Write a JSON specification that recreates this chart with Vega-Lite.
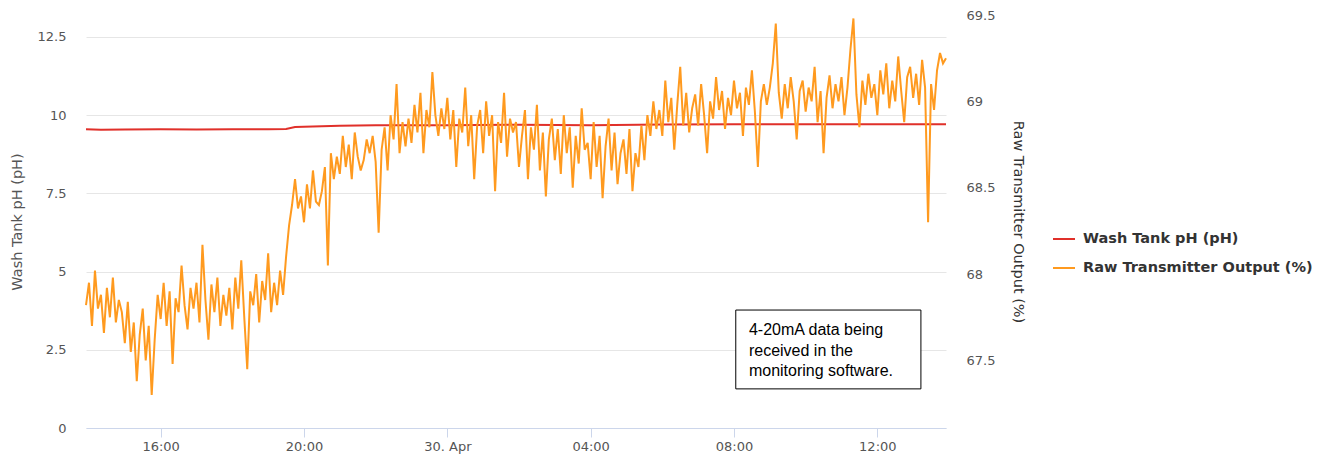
{
  "$schema": "https://vega.github.io/schema/vega-lite/v6.json",
  "width": 860,
  "height": 413,
  "autosize": "none",
  "padding": {"left": 86, "top": 15, "right": 375, "bottom": 29},
  "config": {
    "view": {"stroke": null},
    "font": "DejaVu Sans",
    "axis": {"labelFont": "DejaVu Sans", "titleFont": "DejaVu Sans", "labelColor": "#555555", "labelFontSize": 13, "titleFontWeight": "normal"}
  },
  "datasets": {
    "ph": [
      {"t": "2019-04-29T13:55", "v": 9.55}, {"t": "2019-04-29T14:20", "v": 9.53}, {"t": "2019-04-29T15:00", "v": 9.54},
      {"t": "2019-04-29T16:00", "v": 9.55}, {"t": "2019-04-29T17:00", "v": 9.54}, {"t": "2019-04-29T18:00", "v": 9.55},
      {"t": "2019-04-29T19:00", "v": 9.55}, {"t": "2019-04-29T19:30", "v": 9.56}, {"t": "2019-04-29T19:45", "v": 9.62},
      {"t": "2019-04-29T20:15", "v": 9.64}, {"t": "2019-04-29T21:00", "v": 9.66}, {"t": "2019-04-29T22:00", "v": 9.68},
      {"t": "2019-04-30T00:00", "v": 9.68}, {"t": "2019-04-30T02:00", "v": 9.69}, {"t": "2019-04-30T04:00", "v": 9.68},
      {"t": "2019-04-30T06:00", "v": 9.70}, {"t": "2019-04-30T08:00", "v": 9.71}, {"t": "2019-04-30T10:00", "v": 9.71},
      {"t": "2019-04-30T12:00", "v": 9.71}, {"t": "2019-04-30T13:55", "v": 9.71}
    ],
    "raw": [
      {"t": "2019-04-29T13:55", "v": 67.82}, {"t": "2019-04-29T14:00", "v": 67.95}, {"t": "2019-04-29T14:05", "v": 67.70}, {"t": "2019-04-29T14:10", "v": 68.02},
      {"t": "2019-04-29T14:15", "v": 67.80}, {"t": "2019-04-29T14:20", "v": 67.88}, {"t": "2019-04-29T14:25", "v": 67.66}, {"t": "2019-04-29T14:30", "v": 67.92},
      {"t": "2019-04-29T14:35", "v": 67.75}, {"t": "2019-04-29T14:40", "v": 67.98}, {"t": "2019-04-29T14:45", "v": 67.72}, {"t": "2019-04-29T14:50", "v": 67.85},
      {"t": "2019-04-29T14:55", "v": 67.78}, {"t": "2019-04-29T15:00", "v": 67.60}, {"t": "2019-04-29T15:05", "v": 67.84}, {"t": "2019-04-29T15:10", "v": 67.55},
      {"t": "2019-04-29T15:15", "v": 67.72}, {"t": "2019-04-29T15:20", "v": 67.38}, {"t": "2019-04-29T15:25", "v": 67.65}, {"t": "2019-04-29T15:30", "v": 67.80},
      {"t": "2019-04-29T15:35", "v": 67.50}, {"t": "2019-04-29T15:40", "v": 67.70}, {"t": "2019-04-29T15:45", "v": 67.30}, {"t": "2019-04-29T15:50", "v": 67.62},
      {"t": "2019-04-29T15:55", "v": 67.88}, {"t": "2019-04-29T16:00", "v": 67.74}, {"t": "2019-04-29T16:05", "v": 67.95}, {"t": "2019-04-29T16:10", "v": 67.70},
      {"t": "2019-04-29T16:15", "v": 67.90}, {"t": "2019-04-29T16:20", "v": 67.48}, {"t": "2019-04-29T16:25", "v": 67.86}, {"t": "2019-04-29T16:30", "v": 67.78},
      {"t": "2019-04-29T16:35", "v": 68.05}, {"t": "2019-04-29T16:40", "v": 67.82}, {"t": "2019-04-29T16:45", "v": 67.68}, {"t": "2019-04-29T16:50", "v": 67.92},
      {"t": "2019-04-29T16:55", "v": 67.80}, {"t": "2019-04-29T17:00", "v": 67.95}, {"t": "2019-04-29T17:05", "v": 67.72}, {"t": "2019-04-29T17:10", "v": 68.17},
      {"t": "2019-04-29T17:15", "v": 67.85}, {"t": "2019-04-29T17:20", "v": 67.62}, {"t": "2019-04-29T17:25", "v": 67.94}, {"t": "2019-04-29T17:30", "v": 67.78},
      {"t": "2019-04-29T17:35", "v": 67.98}, {"t": "2019-04-29T17:40", "v": 67.70}, {"t": "2019-04-29T17:45", "v": 67.88}, {"t": "2019-04-29T17:50", "v": 67.76},
      {"t": "2019-04-29T17:55", "v": 67.92}, {"t": "2019-04-29T18:00", "v": 67.68}, {"t": "2019-04-29T18:05", "v": 67.98}, {"t": "2019-04-29T18:10", "v": 67.80},
      {"t": "2019-04-29T18:15", "v": 68.08}, {"t": "2019-04-29T18:20", "v": 67.75}, {"t": "2019-04-29T18:25", "v": 67.45}, {"t": "2019-04-29T18:30", "v": 67.90},
      {"t": "2019-04-29T18:35", "v": 67.82}, {"t": "2019-04-29T18:40", "v": 68.00}, {"t": "2019-04-29T18:45", "v": 67.72}, {"t": "2019-04-29T18:50", "v": 67.96},
      {"t": "2019-04-29T18:55", "v": 67.85}, {"t": "2019-04-29T19:00", "v": 68.12}, {"t": "2019-04-29T19:05", "v": 67.78}, {"t": "2019-04-29T19:10", "v": 67.95},
      {"t": "2019-04-29T19:15", "v": 67.82}, {"t": "2019-04-29T19:20", "v": 68.02}, {"t": "2019-04-29T19:25", "v": 67.88}, {"t": "2019-04-29T19:30", "v": 68.10},
      {"t": "2019-04-29T19:35", "v": 68.28}, {"t": "2019-04-29T19:40", "v": 68.40}, {"t": "2019-04-29T19:45", "v": 68.55}, {"t": "2019-04-29T19:50", "v": 68.38},
      {"t": "2019-04-29T19:55", "v": 68.45}, {"t": "2019-04-29T20:00", "v": 68.30}, {"t": "2019-04-29T20:05", "v": 68.52}, {"t": "2019-04-29T20:10", "v": 68.38},
      {"t": "2019-04-29T20:15", "v": 68.60}, {"t": "2019-04-29T20:20", "v": 68.42}, {"t": "2019-04-29T20:25", "v": 68.40}, {"t": "2019-04-29T20:30", "v": 68.48},
      {"t": "2019-04-29T20:35", "v": 68.62}, {"t": "2019-04-29T20:40", "v": 68.05}, {"t": "2019-04-29T20:45", "v": 68.70}, {"t": "2019-04-29T20:50", "v": 68.55},
      {"t": "2019-04-29T20:55", "v": 68.68}, {"t": "2019-04-29T21:00", "v": 68.58}, {"t": "2019-04-29T21:05", "v": 68.80}, {"t": "2019-04-29T21:10", "v": 68.62},
      {"t": "2019-04-29T21:15", "v": 68.75}, {"t": "2019-04-29T21:20", "v": 68.55}, {"t": "2019-04-29T21:25", "v": 68.82}, {"t": "2019-04-29T21:30", "v": 68.68},
      {"t": "2019-04-29T21:35", "v": 68.60}, {"t": "2019-04-29T21:40", "v": 68.66}, {"t": "2019-04-29T21:45", "v": 68.78}, {"t": "2019-04-29T21:50", "v": 68.70},
      {"t": "2019-04-29T21:55", "v": 68.80}, {"t": "2019-04-29T22:00", "v": 68.65}, {"t": "2019-04-29T22:05", "v": 68.24}, {"t": "2019-04-29T22:10", "v": 68.72},
      {"t": "2019-04-29T22:15", "v": 68.85}, {"t": "2019-04-29T22:20", "v": 68.60}, {"t": "2019-04-29T22:25", "v": 68.92}, {"t": "2019-04-29T22:30", "v": 68.78},
      {"t": "2019-04-29T22:35", "v": 69.10}, {"t": "2019-04-29T22:40", "v": 68.70}, {"t": "2019-04-29T22:45", "v": 68.88}, {"t": "2019-04-29T22:50", "v": 68.74},
      {"t": "2019-04-29T22:55", "v": 68.90}, {"t": "2019-04-29T23:00", "v": 68.76}, {"t": "2019-04-29T23:05", "v": 68.98}, {"t": "2019-04-29T23:10", "v": 68.82},
      {"t": "2019-04-29T23:15", "v": 69.05}, {"t": "2019-04-29T23:20", "v": 68.70}, {"t": "2019-04-29T23:25", "v": 68.95}, {"t": "2019-04-29T23:30", "v": 68.85},
      {"t": "2019-04-29T23:35", "v": 69.17}, {"t": "2019-04-29T23:40", "v": 68.92}, {"t": "2019-04-29T23:45", "v": 68.80}, {"t": "2019-04-29T23:50", "v": 68.96},
      {"t": "2019-04-29T23:55", "v": 68.84}, {"t": "2019-04-30T00:00", "v": 69.02}, {"t": "2019-04-30T00:05", "v": 68.78}, {"t": "2019-04-30T00:10", "v": 68.95},
      {"t": "2019-04-30T00:15", "v": 68.62}, {"t": "2019-04-30T00:20", "v": 68.90}, {"t": "2019-04-30T00:25", "v": 68.82}, {"t": "2019-04-30T00:30", "v": 69.08},
      {"t": "2019-04-30T00:35", "v": 68.74}, {"t": "2019-04-30T00:40", "v": 68.92}, {"t": "2019-04-30T00:45", "v": 68.55}, {"t": "2019-04-30T00:50", "v": 68.86},
      {"t": "2019-04-30T00:55", "v": 68.95}, {"t": "2019-04-30T01:00", "v": 68.70}, {"t": "2019-04-30T01:05", "v": 69.00}, {"t": "2019-04-30T01:10", "v": 68.80},
      {"t": "2019-04-30T01:15", "v": 68.92}, {"t": "2019-04-30T01:20", "v": 68.48}, {"t": "2019-04-30T01:25", "v": 68.88}, {"t": "2019-04-30T01:30", "v": 68.76},
      {"t": "2019-04-30T01:35", "v": 69.05}, {"t": "2019-04-30T01:40", "v": 68.68}, {"t": "2019-04-30T01:45", "v": 68.90}, {"t": "2019-04-30T01:50", "v": 68.82},
      {"t": "2019-04-30T01:55", "v": 68.88}, {"t": "2019-04-30T02:00", "v": 68.62}, {"t": "2019-04-30T02:05", "v": 68.80}, {"t": "2019-04-30T02:10", "v": 68.95},
      {"t": "2019-04-30T02:15", "v": 68.55}, {"t": "2019-04-30T02:20", "v": 68.85}, {"t": "2019-04-30T02:25", "v": 68.72}, {"t": "2019-04-30T02:30", "v": 68.98},
      {"t": "2019-04-30T02:35", "v": 68.60}, {"t": "2019-04-30T02:40", "v": 68.82}, {"t": "2019-04-30T02:45", "v": 68.45}, {"t": "2019-04-30T02:50", "v": 68.78},
      {"t": "2019-04-30T02:55", "v": 68.90}, {"t": "2019-04-30T03:00", "v": 68.66}, {"t": "2019-04-30T03:05", "v": 68.84}, {"t": "2019-04-30T03:10", "v": 68.58},
      {"t": "2019-04-30T03:15", "v": 68.92}, {"t": "2019-04-30T03:20", "v": 68.70}, {"t": "2019-04-30T03:25", "v": 68.85}, {"t": "2019-04-30T03:30", "v": 68.50},
      {"t": "2019-04-30T03:35", "v": 68.80}, {"t": "2019-04-30T03:40", "v": 68.64}, {"t": "2019-04-30T03:45", "v": 68.96}, {"t": "2019-04-30T03:50", "v": 68.72},
      {"t": "2019-04-30T03:55", "v": 68.76}, {"t": "2019-04-30T04:00", "v": 68.55}, {"t": "2019-04-30T04:05", "v": 68.88}, {"t": "2019-04-30T04:10", "v": 68.62},
      {"t": "2019-04-30T04:15", "v": 68.80}, {"t": "2019-04-30T04:20", "v": 68.44}, {"t": "2019-04-30T04:25", "v": 68.74}, {"t": "2019-04-30T04:30", "v": 68.90},
      {"t": "2019-04-30T04:35", "v": 68.60}, {"t": "2019-04-30T04:40", "v": 68.82}, {"t": "2019-04-30T04:45", "v": 68.52}, {"t": "2019-04-30T04:50", "v": 68.70},
      {"t": "2019-04-30T04:55", "v": 68.78}, {"t": "2019-04-30T05:00", "v": 68.58}, {"t": "2019-04-30T05:05", "v": 68.84}, {"t": "2019-04-30T05:10", "v": 68.48},
      {"t": "2019-04-30T05:15", "v": 68.70}, {"t": "2019-04-30T05:20", "v": 68.62}, {"t": "2019-04-30T05:25", "v": 68.86}, {"t": "2019-04-30T05:30", "v": 68.66},
      {"t": "2019-04-30T05:35", "v": 68.92}, {"t": "2019-04-30T05:40", "v": 68.80}, {"t": "2019-04-30T05:45", "v": 69.00}, {"t": "2019-04-30T05:50", "v": 68.84},
      {"t": "2019-04-30T05:55", "v": 68.95}, {"t": "2019-04-30T06:00", "v": 68.80}, {"t": "2019-04-30T06:05", "v": 69.12}, {"t": "2019-04-30T06:10", "v": 68.88},
      {"t": "2019-04-30T06:15", "v": 69.02}, {"t": "2019-04-30T06:20", "v": 68.72}, {"t": "2019-04-30T06:25", "v": 68.98}, {"t": "2019-04-30T06:30", "v": 69.20},
      {"t": "2019-04-30T06:35", "v": 68.86}, {"t": "2019-04-30T06:40", "v": 69.05}, {"t": "2019-04-30T06:45", "v": 68.82}, {"t": "2019-04-30T06:50", "v": 68.96},
      {"t": "2019-04-30T06:55", "v": 69.04}, {"t": "2019-04-30T07:00", "v": 68.86}, {"t": "2019-04-30T07:05", "v": 69.10}, {"t": "2019-04-30T07:10", "v": 68.92},
      {"t": "2019-04-30T07:15", "v": 68.70}, {"t": "2019-04-30T07:20", "v": 69.00}, {"t": "2019-04-30T07:25", "v": 68.90}, {"t": "2019-04-30T07:30", "v": 69.14},
      {"t": "2019-04-30T07:35", "v": 68.95}, {"t": "2019-04-30T07:40", "v": 69.06}, {"t": "2019-04-30T07:45", "v": 68.84}, {"t": "2019-04-30T07:50", "v": 69.02},
      {"t": "2019-04-30T07:55", "v": 68.92}, {"t": "2019-04-30T08:00", "v": 69.12}, {"t": "2019-04-30T08:05", "v": 68.96}, {"t": "2019-04-30T08:10", "v": 69.05},
      {"t": "2019-04-30T08:15", "v": 68.80}, {"t": "2019-04-30T08:20", "v": 69.08}, {"t": "2019-04-30T08:25", "v": 68.98}, {"t": "2019-04-30T08:30", "v": 69.18},
      {"t": "2019-04-30T08:35", "v": 68.94}, {"t": "2019-04-30T08:40", "v": 68.62}, {"t": "2019-04-30T08:45", "v": 69.00}, {"t": "2019-04-30T08:50", "v": 69.10},
      {"t": "2019-04-30T08:55", "v": 68.98}, {"t": "2019-04-30T09:00", "v": 69.08}, {"t": "2019-04-30T09:05", "v": 69.22}, {"t": "2019-04-30T09:10", "v": 69.45},
      {"t": "2019-04-30T09:15", "v": 69.05}, {"t": "2019-04-30T09:20", "v": 68.90}, {"t": "2019-04-30T09:25", "v": 69.10}, {"t": "2019-04-30T09:30", "v": 68.96},
      {"t": "2019-04-30T09:35", "v": 69.14}, {"t": "2019-04-30T09:40", "v": 69.00}, {"t": "2019-04-30T09:45", "v": 68.78}, {"t": "2019-04-30T09:50", "v": 69.06},
      {"t": "2019-04-30T09:55", "v": 69.12}, {"t": "2019-04-30T10:00", "v": 68.94}, {"t": "2019-04-30T10:05", "v": 69.08}, {"t": "2019-04-30T10:10", "v": 69.00},
      {"t": "2019-04-30T10:15", "v": 69.20}, {"t": "2019-04-30T10:20", "v": 68.88}, {"t": "2019-04-30T10:25", "v": 69.06}, {"t": "2019-04-30T10:30", "v": 68.70},
      {"t": "2019-04-30T10:35", "v": 69.02}, {"t": "2019-04-30T10:40", "v": 69.15}, {"t": "2019-04-30T10:45", "v": 68.96}, {"t": "2019-04-30T10:50", "v": 69.10},
      {"t": "2019-04-30T10:55", "v": 69.00}, {"t": "2019-04-30T11:00", "v": 69.14}, {"t": "2019-04-30T11:05", "v": 68.92}, {"t": "2019-04-30T11:10", "v": 69.08},
      {"t": "2019-04-30T11:15", "v": 69.30}, {"t": "2019-04-30T11:20", "v": 69.48}, {"t": "2019-04-30T11:25", "v": 69.04}, {"t": "2019-04-30T11:30", "v": 68.85},
      {"t": "2019-04-30T11:35", "v": 69.12}, {"t": "2019-04-30T11:40", "v": 68.98}, {"t": "2019-04-30T11:45", "v": 69.16}, {"t": "2019-04-30T11:50", "v": 69.02},
      {"t": "2019-04-30T11:55", "v": 69.10}, {"t": "2019-04-30T12:00", "v": 68.92}, {"t": "2019-04-30T12:05", "v": 69.18}, {"t": "2019-04-30T12:10", "v": 69.04},
      {"t": "2019-04-30T12:15", "v": 69.22}, {"t": "2019-04-30T12:20", "v": 68.96}, {"t": "2019-04-30T12:25", "v": 69.12}, {"t": "2019-04-30T12:30", "v": 69.00},
      {"t": "2019-04-30T12:35", "v": 69.26}, {"t": "2019-04-30T12:40", "v": 69.06}, {"t": "2019-04-30T12:45", "v": 68.88}, {"t": "2019-04-30T12:50", "v": 69.14},
      {"t": "2019-04-30T12:55", "v": 69.20}, {"t": "2019-04-30T13:00", "v": 69.02}, {"t": "2019-04-30T13:05", "v": 69.16}, {"t": "2019-04-30T13:10", "v": 68.98},
      {"t": "2019-04-30T13:15", "v": 69.24}, {"t": "2019-04-30T13:20", "v": 69.08}, {"t": "2019-04-30T13:25", "v": 68.30}, {"t": "2019-04-30T13:30", "v": 69.10},
      {"t": "2019-04-30T13:35", "v": 68.95}, {"t": "2019-04-30T13:40", "v": 69.18}, {"t": "2019-04-30T13:45", "v": 69.28}, {"t": "2019-04-30T13:50", "v": 69.22},
      {"t": "2019-04-30T13:55", "v": 69.25}
    ]
  },
  "layer": [
    {
      "layer": [
        {
          "data": {"name": "ph"},
          "mark": {"type": "line", "strokeWidth": 2},
          "encoding": {
            "x": {
              "field": "t", "type": "temporal", "title": null,
              "scale": {"domain": [{"year": 2019, "month": 4, "date": 29, "hours": 13, "minutes": 55}, {"year": 2019, "month": 4, "date": 30, "hours": 13, "minutes": 55}]},
              "axis": {
                "values": [
                  {"year": 2019, "month": 4, "date": 29, "hours": 16},
                  {"year": 2019, "month": 4, "date": 29, "hours": 20},
                  {"year": 2019, "month": 4, "date": 30, "hours": 0},
                  {"year": 2019, "month": 4, "date": 30, "hours": 4},
                  {"year": 2019, "month": 4, "date": 30, "hours": 8},
                  {"year": 2019, "month": 4, "date": 30, "hours": 12}
                ],
                "labelExpr": "timeFormat(datum.value, hours(datum.value) == 0 ? '%d. %b' : '%H:%M')",
                "grid": false, "domainColor": "#ccd6eb", "tickColor": "#ccd6eb", "tickSize": 9, "labelPadding": 3, "labelFlush": false
              }
            },
            "y": {
              "field": "v", "type": "quantitative",
              "scale": {"domain": [0, 13.2], "nice": false},
              "axis": {
                "title": "Wash Tank pH (pH)", "orient": "left", "values": [0, 2.5, 5, 7.5, 10, 12.5], "format": ".1~f",
                "domain": false, "ticks": false, "labelPadding": 20, "gridColor": "#e6e6e6",
                "titleColor": "#555555", "titleFontSize": 14.5, "titlePadding": 13
              }
            },
            "color": {
              "datum": "Wash Tank pH (pH)",
              "scale": {"domain": ["Wash Tank pH (pH)", "Raw Transmitter Output (%)"], "range": ["#e0302a", "#ff9a1f"]},
              "legend": {
                "title": null, "orient": "none", "legendX": 966, "legendY": 212,
                "symbolType": "stroke", "symbolSize": 484, "symbolStrokeWidth": 2,
                "labelFont": "DejaVu Sans", "labelFontSize": 14.5, "labelFontWeight": "bold", "labelColor": "#333333",
                "rowPadding": 10, "labelOffset": 7, "labelLimit": 400
              }
            }
          }
        },
        {
          "data": {"values": [{}]},
          "mark": {"type": "rect", "fill": "white", "stroke": "black", "strokeWidth": 1},
          "encoding": {
            "x": {"datum": {"year": 2019, "month": 4, "date": 30, "hours": 8, "minutes": 3}, "type": "temporal"},
            "x2": {"datum": {"year": 2019, "month": 4, "date": 30, "hours": 13, "minutes": 13}},
            "y": {"datum": 3.77, "type": "quantitative"},
            "y2": {"datum": 1.25}
          }
        },
        {
          "data": {"values": [{}]},
          "mark": {
            "type": "text", "text": ["4-20mA data being", "received in the", "monitoring software."],
            "align": "left", "baseline": "alphabetic", "font": "Liberation Sans", "fontSize": 16, "lineHeight": 20.5, "color": "#000000"
          },
          "encoding": {
            "x": {"datum": {"year": 2019, "month": 4, "date": 30, "hours": 8, "minutes": 25}, "type": "temporal"},
            "y": {"datum": 2.97, "type": "quantitative"}
          }
        }
      ]
    },
    {
      "data": {"name": "raw"},
      "mark": {"type": "line", "strokeWidth": 2},
      "encoding": {
        "x": {"field": "t", "type": "temporal"},
        "y": {
          "field": "v", "type": "quantitative",
          "scale": {"domain": [67.109, 69.5], "nice": false, "zero": false},
          "axis": {
            "title": "Raw Transmitter Output (%)", "orient": "right", "values": [67.5, 68, 68.5, 69, 69.5], "format": ".1~f",
            "grid": false, "domain": false, "ticks": false, "labelPadding": 20,
            "titleColor": "#333333", "titleFontSize": 14.5, "titlePadding": 16
          }
        },
        "color": {"datum": "Raw Transmitter Output (%)"}
      }
    }
  ],
  "resolve": {"scale": {"y": "independent"}}
}
